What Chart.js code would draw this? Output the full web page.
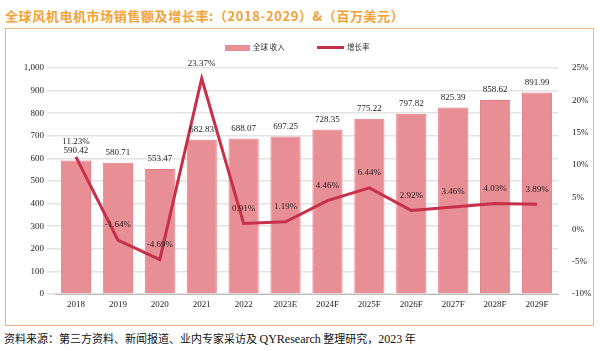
<!DOCTYPE html>
<html>
<head>
<meta charset="utf-8">
<script src="https://cdn.jsdelivr.net/npm/chart.js@4.4.0/dist/chart.umd.min.js"></script>
<style>
  body { margin: 0; width: 600px; height: 351px; background: #fff; position: relative; overflow: hidden; }
  #title { position: absolute; left: 5px; top: 6px; font: bold 13px "Noto Sans CJK SC", sans-serif; letter-spacing: 0.6px; color: #f3a236; white-space: nowrap; }
  #box { position: absolute; left: 5px; top: 28px; width: 587px; height: 296px; border: 1px solid #f4b183; }
  #footer { position: absolute; left: 4px; top: 330px; font: 11px "Noto Sans CJK SC", sans-serif; color: #111; white-space: nowrap; }
  #footer span { font: 12px "Liberation Serif", serif; }
  .lg { position: absolute; top: 41px; font: 7.5px "Noto Sans CJK SC", sans-serif; color: #333; white-space: nowrap; line-height: 12px; }
  .sw { display: inline-block; vertical-align: middle; margin-right: 3px; }
</style>
</head>
<body>
<div id="title">全球风机电机市场销售额及增长率:（2018-2029）&amp;（百万美元）</div>
<div id="box"><canvas id="c"></canvas></div>
<div id="legend"></div>
<div id="footer">资料来源：第三方资料、新闻报道、业内专家采访及 <span>QYResearch</span> 整理研究，<span>2023</span> 年</div>
<script>
const years = ["2018", "2019", "2020", "2021", "2022", "2023E", "2024F", "2025F", "2026F", "2027F", "2028F", "2029F"];
const revenue = [590.42, 580.71, 553.47, 682.83, 688.07, 697.25, 728.35, 775.22, 797.82, 825.39, 858.62, 891.99];
const growth = [11.23, -1.64, -4.69, 23.37, 0.91, 1.19, 4.46, 6.44, 2.92, 3.46, 4.03, 3.89];
const seriesNames = ["全球 收入", "增长率"];

const serif = "'Liberation Serif', 'DejaVu Serif', serif";
const barColor = "#e88e95";
const lineColor = "#c8304a";

// html legend, same look as the original
const legendEl = document.getElementById("legend");
legendEl.innerHTML =
    '<div class="lg" style="left:225px"><span class="sw" style="width:25px;height:6px;background:' + barColor + '"></span>' + seriesNames[0] + '</div>' +
    '<div class="lg" style="left:317px"><span class="sw" style="width:27px;height:3px;background:' + lineColor + '"></span>' + seriesNames[1] + '</div>';

// draws value labels over bars and line points
const valueLabels = {
    id: "valueLabels",
    afterDatasetsDraw(chart) {
        const ctx = chart.ctx;
        ctx.save();
        ctx.font = "9px " + serif;
        ctx.fillStyle = "#222";
        ctx.textAlign = "center";
        ctx.textBaseline = "middle";
        chart.getDatasetMeta(0).data.forEach((bar, i) => {
            ctx.fillText(revenue[i].toFixed(2), bar.x, bar.y - 10);
        });
        chart.getDatasetMeta(1).data.forEach((pt, i) => {
            ctx.fillText(growth[i].toFixed(2) + "%", pt.x, pt.y - 15);
        });
        ctx.restore();
    },
};

new Chart(document.getElementById("c"), {
    type: "bar",
    data: {
        labels: years,
        datasets: [
            {
                label: seriesNames[0],
                data: revenue,
                backgroundColor: barColor,
                borderColor: "#e27a83",
                borderWidth: 1,
                barPercentage: 0.72,
                categoryPercentage: 1,
                yAxisID: "y",
                order: 1,
            },
            {
                type: "line",
                label: seriesNames[1],
                data: growth,
                borderColor: lineColor,
                backgroundColor: lineColor,
                borderWidth: 3,
                pointRadius: 0,
                tension: 0,
                yAxisID: "y1",
                order: 0,
            },
        ],
    },
    options: {
        responsive: true,
        maintainAspectRatio: false,
        animation: false,
        layout: { padding: { top: 39 } },
        plugins: {
            legend: { display: false },
            tooltip: { enabled: false },
        },
        scales: {
            x: {
                grid: { display: false, drawTicks: false },
                border: { color: "#bbb" },
                ticks: { color: "#222", font: { size: 9, family: serif }, maxRotation: 0, padding: 5 },
                afterFit: (s) => { s.height = 31; },
            },
            y: {
                position: "left",
                min: 0,
                max: 1000,
                ticks: { stepSize: 100, color: "#222", font: { size: 9, family: serif }, padding: 3 },
                grid: { color: "#e3e3e3", lineWidth: 1.5 },
                border: { display: false },
                afterFit: (s) => { s.width = 49; },
            },
            y1: {
                position: "right",
                min: -10,
                max: 25,
                ticks: {
                    stepSize: 5,
                    color: "#222",
                    font: { size: 9, family: serif },
                    padding: 6,
                    callback: (v) => v + "%",
                },
                grid: { display: false },
                border: { display: false },
                afterFit: (s) => { s.width = 35; },
            },
        },
    },
    plugins: [valueLabels],
});
</script>
</body>
</html>
